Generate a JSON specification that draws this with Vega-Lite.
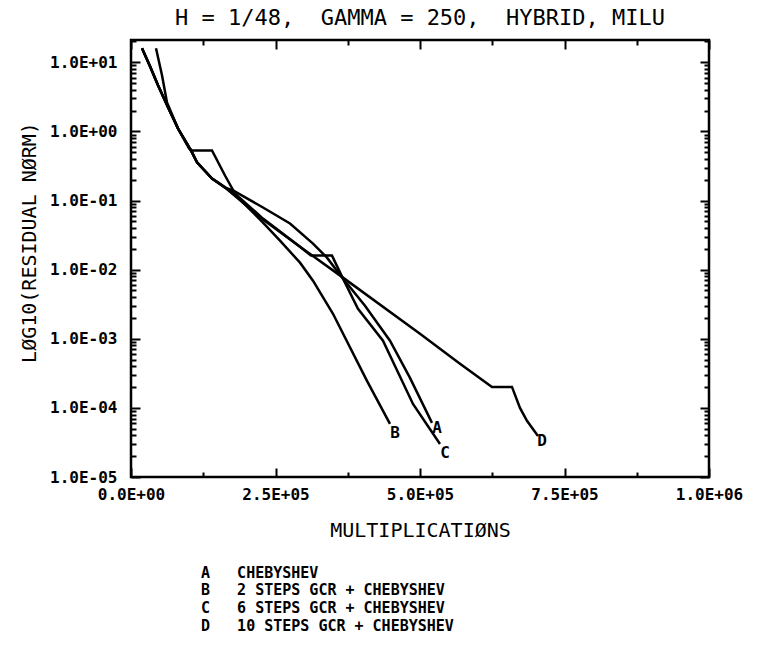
{
  "$schema": "https://vega.github.io/schema/vega-lite/v6.json",
  "autosize": {"type": "none"},
  "width": 578,
  "height": 437,
  "padding": {"left": 131, "top": 40, "right": 54, "bottom": 172},
  "background": "white",
  "title": {
    "text": "H = 1/48,\u00a0\u00a0GAMMA = 250,\u00a0\u00a0HYBRID, MILU",
    "font": "DejaVu Sans Mono",
    "fontSize": 22,
    "fontWeight": "normal",
    "color": "black",
    "anchor": "middle",
    "baseline": "alphabetic",
    "offset": -14
  },
  "config": {
    "view": {"stroke": "black", "strokeWidth": 2.5},
    "axis": {
      "domain": false,
      "grid": false,
      "tickColor": "black",
      "tickWidth": 2,
      "labelColor": "black",
      "labelFont": "DejaVu Sans Mono",
      "labelFontSize": 16,
      "labelFontWeight": "bold",
      "labelOverlap": false,
      "labelFlush": false,
      "titleColor": "black",
      "titleFont": "DejaVu Sans Mono",
      "titleFontWeight": "normal",
      "titleFontSize": 20
    }
  },
  "layer": [
    {
      "data": {
        "values": [
          {"series": "A", "mult": 43250, "res": 15.97},
          {"series": "A", "mult": 53630, "res": 6.49},
          {"series": "A", "mult": 62280, "res": 2.63},
          {"series": "A", "mult": 81310, "res": 1.10},
          {"series": "A", "mult": 100340, "res": 0.567},
          {"series": "A", "mult": 105530, "res": 0.531},
          {"series": "A", "mult": 140130, "res": 0.531},
          {"series": "A", "mult": 162620, "res": 0.230},
          {"series": "A", "mult": 179920, "res": 0.126},
          {"series": "A", "mult": 228360, "res": 0.0548},
          {"series": "A", "mult": 292370, "res": 0.0215},
          {"series": "A", "mult": 311400, "res": 0.01595},
          {"series": "A", "mult": 347730, "res": 0.01595},
          {"series": "A", "mult": 366760, "res": 0.00741},
          {"series": "A", "mult": 404820, "res": 0.00301},
          {"series": "A", "mult": 448070, "res": 0.000935},
          {"series": "A", "mult": 482670, "res": 0.000272},
          {"series": "A", "mult": 520730, "res": 0.0000607},

          {"series": "B", "mult": 19030, "res": 15.97},
          {"series": "B", "mult": 32870, "res": 8.75},
          {"series": "B", "mult": 46710, "res": 4.65},
          {"series": "B", "mult": 64010, "res": 2.23},
          {"series": "B", "mult": 81310, "res": 1.10},
          {"series": "B", "mult": 98610, "res": 0.627},
          {"series": "B", "mult": 105530, "res": 0.497},
          {"series": "B", "mult": 114180, "res": 0.356},
          {"series": "B", "mult": 140130, "res": 0.208},
          {"series": "B", "mult": 176460, "res": 0.1306},
          {"series": "B", "mult": 228360, "res": 0.048},
          {"series": "B", "mult": 257770, "res": 0.0263},
          {"series": "B", "mult": 292370, "res": 0.01262},
          {"series": "B", "mult": 314860, "res": 0.00693},
          {"series": "B", "mult": 349460, "res": 0.0023},
          {"series": "B", "mult": 408280, "res": 0.000246},
          {"series": "B", "mult": 448070, "res": 0.0000586},

          {"series": "C", "mult": 19030, "res": 15.97},
          {"series": "C", "mult": 32870, "res": 8.75},
          {"series": "C", "mult": 46710, "res": 4.65},
          {"series": "C", "mult": 64010, "res": 2.23},
          {"series": "C", "mult": 81310, "res": 1.10},
          {"series": "C", "mult": 98610, "res": 0.627},
          {"series": "C", "mult": 105530, "res": 0.497},
          {"series": "C", "mult": 114180, "res": 0.356},
          {"series": "C", "mult": 140130, "res": 0.208},
          {"series": "C", "mult": 162620, "res": 0.154},
          {"series": "C", "mult": 176460, "res": 0.1396},
          {"series": "C", "mult": 228360, "res": 0.0792},
          {"series": "C", "mult": 275070, "res": 0.0465},
          {"series": "C", "mult": 314860, "res": 0.0238},
          {"series": "C", "mult": 339080, "res": 0.0149},
          {"series": "C", "mult": 366760, "res": 0.00741},
          {"series": "C", "mult": 392710, "res": 0.00272},
          {"series": "C", "mult": 435960, "res": 0.000935},
          {"series": "C", "mult": 487860, "res": 0.000114},
          {"series": "C", "mult": 534570, "res": 0.000030},

          {"series": "D", "mult": 19030, "res": 15.97},
          {"series": "D", "mult": 32870, "res": 8.75},
          {"series": "D", "mult": 46710, "res": 4.65},
          {"series": "D", "mult": 64010, "res": 2.23},
          {"series": "D", "mult": 81310, "res": 1.10},
          {"series": "D", "mult": 98610, "res": 0.627},
          {"series": "D", "mult": 105530, "res": 0.497},
          {"series": "D", "mult": 114180, "res": 0.356},
          {"series": "D", "mult": 140130, "res": 0.208},
          {"series": "D", "mult": 162620, "res": 0.154},
          {"series": "D", "mult": 228360, "res": 0.0531},
          {"series": "D", "mult": 292370, "res": 0.0215},
          {"series": "D", "mult": 366760, "res": 0.00766},
          {"series": "D", "mult": 499970, "res": 0.00118},
          {"series": "D", "mult": 569170, "res": 0.000434},
          {"series": "D", "mult": 624530, "res": 0.000201},
          {"series": "D", "mult": 659130, "res": 0.000201},
          {"series": "D", "mult": 672970, "res": 0.0001},
          {"series": "D", "mult": 685080, "res": 0.0000649},
          {"series": "D", "mult": 704110, "res": 0.0000393}
        ]
      },
      "mark": {"type": "line", "strokeWidth": 2.5, "clip": true},
      "encoding": {
        "x": {
          "field": "mult",
          "type": "quantitative",
          "scale": {"domain": [0, 1000000], "nice": false, "zero": false},
          "axis": {
            "orient": "bottom",
            "values": [0, 125000, 250000, 375000, 500000, 625000, 750000, 875000, 1000000],
            "tickSize": {"condition": {"test": "datum.value % 250000 == 0", "value": -9}, "value": -5},
            "labelPadding": 18,
            "labelExpr": "datum.value == 0 ? '0.0E+00' : datum.value == 250000 ? '2.5E+05' : datum.value == 500000 ? '5.0E+05' : datum.value == 750000 ? '7.5E+05' : datum.value == 1000000 ? '1.0E+06' : ''",
            "title": "MULTIPLICATIØNS",
            "titleBaseline": "alphabetic",
            "titleY": 59
          }
        },
        "y": {
          "field": "res",
          "type": "quantitative",
          "scale": {"type": "log", "domain": [0.00001, 21], "nice": false},
          "axis": {
            "orient": "left",
            "values": [0.00001, 0.00002, 0.00003, 0.00004, 0.00005, 0.00006, 0.00007, 0.00008, 0.00009,
                       0.0001, 0.0002, 0.0003, 0.0004, 0.0005, 0.0006, 0.0007, 0.0008, 0.0009,
                       0.001, 0.002, 0.003, 0.004, 0.005, 0.006, 0.007, 0.008, 0.009,
                       0.01, 0.02, 0.03, 0.04, 0.05, 0.06, 0.07, 0.08, 0.09,
                       0.1, 0.2, 0.3, 0.4, 0.5, 0.6, 0.7, 0.8, 0.9,
                       1, 2, 3, 4, 5, 6, 7, 8, 9, 10, 20],
            "tickSize": {"condition": {"test": "abs(log(datum.value)/LN10 - round(log(datum.value)/LN10)) < 0.001", "value": -9}, "value": -5},
            "labelPadding": 23,
            "labelExpr": "abs(log(datum.value)/LN10 - round(log(datum.value)/LN10)) < 0.001 ? '1.0E' + (round(log(datum.value)/LN10) >= 0 ? '+' : '-') + '0' + abs(round(log(datum.value)/LN10)) : ''",
            "title": "LØG10(RESIDUAL NØRM)",
            "titleAngle": -90,
            "titleAlign": "center",
            "titleBaseline": "alphabetic",
            "titleX": -96,
            "titleY": 202
          }
        },
        "color": {
          "field": "series",
          "type": "nominal",
          "scale": {"range": ["black", "black", "black", "black"]},
          "legend": {
            "orient": "none",
            "legendX": 55,
            "legendY": 525,
            "title": null,
            "padding": 0,
            "symbolSize": 0,
            "symbolStrokeWidth": 0,
            "symbolOpacity": 0,
            "labelOffset": 0,
            "rowPadding": 1.7,
            "labelFont": "DejaVu Sans Mono",
            "labelFontSize": 15,
            "labelFontWeight": "bold",
            "labelColor": "black",
            "labelLimit": 0,
            "labelExpr": "datum.label == 'A' ? 'A\u00a0\u00a0\u00a0CHEBYSHEV' : datum.label == 'B' ? 'B\u00a0\u00a0\u00a02 STEPS GCR + CHEBYSHEV' : datum.label == 'C' ? 'C\u00a0\u00a0\u00a06 STEPS GCR + CHEBYSHEV' : 'D\u00a0\u00a0\u00a010 STEPS GCR + CHEBYSHEV'"
          }
        }
      }
    },
    {
      "data": {
        "values": [
          {"series": "A", "mult": 529380, "res": 0.0000513},
          {"series": "B", "mult": 456720, "res": 0.0000435},
          {"series": "C", "mult": 543220, "res": 0.0000223},
          {"series": "D", "mult": 711030, "res": 0.0000333}
        ]
      },
      "mark": {"type": "text", "font": "DejaVu Sans Mono", "fontSize": 16, "fontWeight": "bold", "color": "black", "align": "center", "baseline": "middle"},
      "encoding": {
        "x": {
          "field": "mult",
          "type": "quantitative",
          "axis": {
            "orient": "top",
            "values": [0, 125000, 250000, 375000, 500000, 625000, 750000, 875000, 1000000],
            "tickSize": {"condition": {"test": "datum.value % 250000 == 0", "value": -9}, "value": -5},
            "labels": false,
            "title": null
          }
        },
        "y": {
          "field": "res",
          "type": "quantitative",
          "axis": {
            "orient": "right",
            "values": [0.00001, 0.00002, 0.00003, 0.00004, 0.00005, 0.00006, 0.00007, 0.00008, 0.00009,
                       0.0001, 0.0002, 0.0003, 0.0004, 0.0005, 0.0006, 0.0007, 0.0008, 0.0009,
                       0.001, 0.002, 0.003, 0.004, 0.005, 0.006, 0.007, 0.008, 0.009,
                       0.01, 0.02, 0.03, 0.04, 0.05, 0.06, 0.07, 0.08, 0.09,
                       0.1, 0.2, 0.3, 0.4, 0.5, 0.6, 0.7, 0.8, 0.9,
                       1, 2, 3, 4, 5, 6, 7, 8, 9, 10, 20],
            "tickSize": {"condition": {"test": "abs(log(datum.value)/LN10 - round(log(datum.value)/LN10)) < 0.001", "value": -9}, "value": -5},
            "labels": false,
            "title": null
          }
        },
        "text": {"field": "series", "type": "nominal"}
      }
    }
  ],
  "resolve": {"axis": {"x": "independent", "y": "independent"}}
}
